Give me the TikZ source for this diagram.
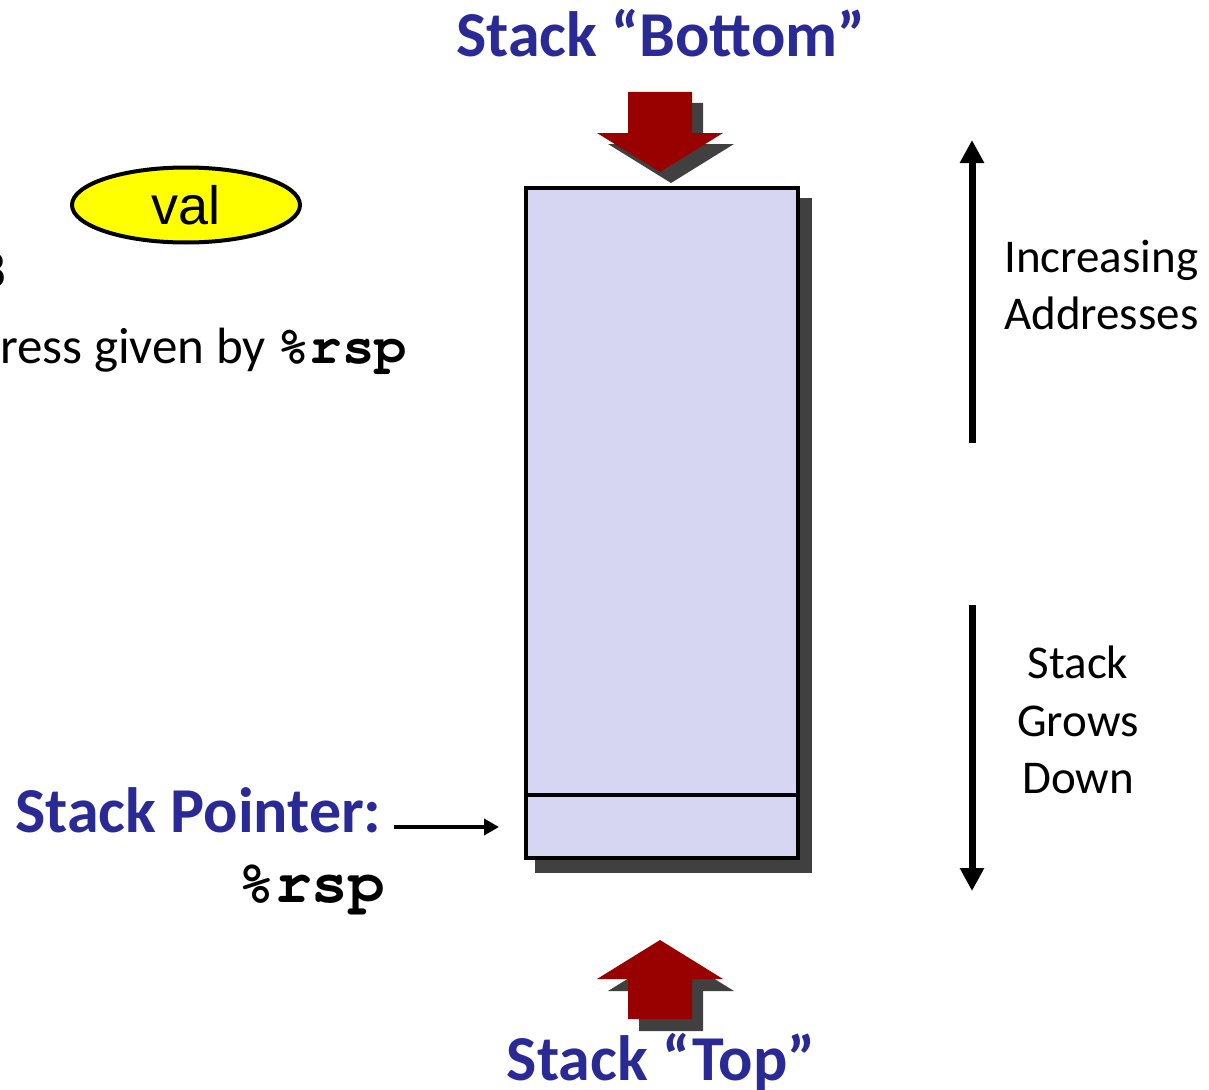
\documentclass[tikz,border=0pt]{standalone}
\usepackage{fontspec}
\setmainfont{Carlito}
\newfontfamily\arialfont{Liberation Sans}
\newcommand\courbold{\fontencoding{T1}\fontfamily{pcr}\fontseries{b}\selectfont}
\usetikzlibrary{arrows.meta,shapes.geometric}
\definecolor{titleblue}{RGB}{42,42,150}
\definecolor{stackfill}{RGB}{214,214,243}
\definecolor{arrowred}{RGB}{153,0,0}
\definecolor{shadowgray}{RGB}{64,64,64}
\definecolor{valyellow}{RGB}{255,255,0}
\begin{document}
\begin{tikzpicture}[x=1pt,y=-1pt,
  title/.style={font=\fontsize{64}{70}\selectfont\bfseries, text=titleblue, inner sep=0pt},
  body/.style={font=\fontsize{47}{57.5}\selectfont, inner sep=0pt},
  code/.style={font=\fontsize{61}{64}\selectfont\courbold, inner sep=0pt},
  thickarrow/.style={line width=7pt, -{Triangle[length=23pt,width=23pt]}},
  ptrarrow/.style={line width=4pt, -{Triangle[length=15pt,width=16pt]}},
  stackbox/.style={draw, line width=4.5pt, fill=stackfill, inner sep=0pt},
  valoval/.style={ellipse, draw, line width=4pt, fill=valyellow, inner sep=0pt,
    font=\fontsize{54}{56}\selectfont\arialfont}
]
\useasboundingbox (0,0) rectangle (1209,1089);

% top big arrow (shadow then red)
\fill[shadowgray, shift={(11,11)}] (628,92) -- (692,92) -- (692,133) -- (723,133) -- (660,172) -- (597,133) -- (628,133) -- cycle;
\fill[arrowred] (628,92) -- (692,92) -- (692,133) -- (723,133) -- (660,172) -- (597,133) -- (628,133) -- cycle;

% bottom big arrow
\fill[shadowgray, shift={(11,12)}] (660,940) -- (723,979) -- (692,979) -- (692,1019) -- (628,1019) -- (628,979) -- (597,979) -- cycle;
\fill[arrowred] (660,940) -- (723,979) -- (692,979) -- (692,1019) -- (628,1019) -- (628,979) -- (597,979) -- cycle;

% stack box with shadow
\fill[shadowgray] (535,198) rectangle (812,873);
\node[stackbox, minimum width=272pt, minimum height=670pt] (stack) at (662,523) {};
\coordinate (divy) at (0,795);
\draw[line width=4.5pt] (stack.west |- divy) -- (stack.east |- divy);

% titles
\node[title, anchor=base] (bottomlbl) at (661,57) {Stack “Bottom”};
\node[title, anchor=base] (toplbl) at (661,1080) {Stack “Top”};

% stack pointer
\node[title, anchor=base west] (sp) at (15,832) {Stack Pointer:};
\node[code, anchor=base east] (rsp) at (385,902) {\%rsp};
\coordinate (ptrstart) at (394,827);
\coordinate (ptrtip) at (499,827);
\draw[ptrarrow] (ptrstart) -- (ptrtip);

% right side arrows and labels
\coordinate (incA) at (972,443);
\coordinate (incB) at (972,140);
\draw[thickarrow] (incA) -- (incB);
\coordinate (grA) at (972,605);
\coordinate (grB) at (972,891);
\draw[thickarrow] (grA) -- (grB);

\node[body, anchor=base west] (inc1) at (1004,272) {Increasing};
\node[body, anchor=base west] (inc2) at (1004,329) {Addresses};
\node[body, anchor=base] (gr1) at (1078,678) {Stack};
\node[body, anchor=base] (gr2) at (1078,736) {Grows};
\node[body, anchor=base] (gr3) at (1078,793) {Down};

% left clipped text
\node[valoval, minimum width=228pt, minimum height=75pt] (val) at (186,205) {val};
\node[font=\fontsize{51}{60}\selectfont, inner sep=0pt, anchor=base east] (eight) at (7,287) {8};
\node[font=\fontsize{51}{60}\selectfont, inner sep=0pt, anchor=base west] (addr) at (0,363) {ress given by {\fontsize{54}{60}\courbold\%rsp}};
\end{tikzpicture}
\end{document}
